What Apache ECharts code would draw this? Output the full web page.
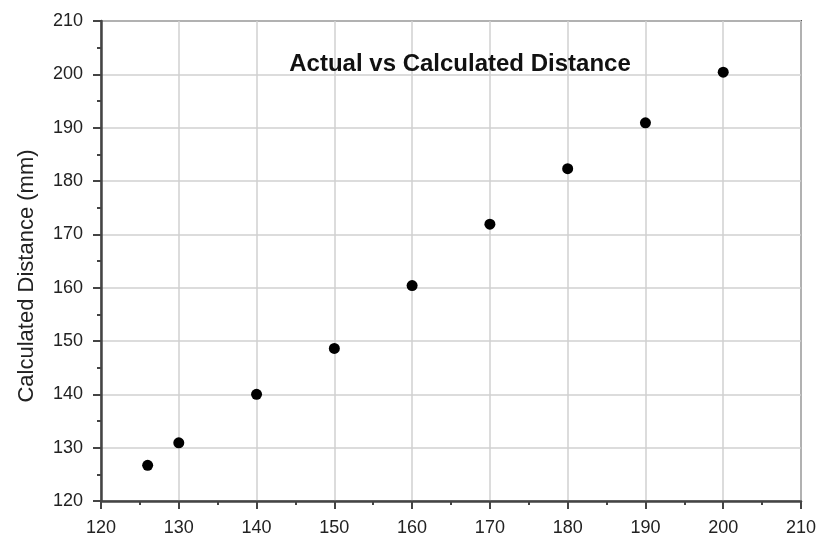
<!DOCTYPE html>
<html>
<head>
<meta charset="utf-8">
<script src="https://cdn.jsdelivr.net/npm/echarts@6/dist/echarts.min.js"></script>
<style>
  html, body { margin: 0; padding: 0; background: #fff; }
  #main { width: 822px; height: 537px; }
</style>
</head>
<body>
<div id="main"></div>
<script>
// actual distance (mm) vs calculated distance (mm)
const actual = [126, 130, 140, 150, 160, 170, 180, 190, 200];
const calculated = [126.7, 130.9, 140.0, 148.6, 160.4, 171.9, 182.3, 190.9, 200.4];
const axisMin = 120;
const axisMax = 210;
const axisStep = 10;

const points = actual.map((x, i) => [x, calculated[i]]);

const font = '"Liberation Sans", Arial, sans-serif';

const chart = echarts.init(document.getElementById('main'));
chart.setOption({
    animation: false,
    backgroundColor: '#fff',
    textStyle: { fontFamily: font },
    title: {
        text: 'Actual vs Calculated Distance',
        left: 455,
        top: 47,
        textAlign: 'center',
        textStyle: { fontFamily: font, fontSize: 24, fontWeight: 'bold', color: '#111' }
    },
    grid: {
        left: 101,
        right: 21,
        top: 21,
        bottom: 36,
        outerBoundsMode: 'none',
        containLabel: false,
        show: true,
        borderColor: '#555',
        borderWidth: 2
    },
    xAxis: {
        type: 'value',
        min: axisMin,
        max: axisMax,
        interval: axisStep,
        axisLine: { show: true, lineStyle: { color: '#444', width: 2.5 } },
        axisTick: { show: true, length: 8, lineStyle: { color: '#444', width: 2 } },
        minorTick: { show: true, splitNumber: 2, length: 4, lineStyle: { color: '#444', width: 2 } },
        axisLabel: { fontSize: 18, color: '#222', margin: 18, fontFamily: font },
        splitLine: { show: true, lineStyle: { color: '#d0d0d0', width: 1.5 } }
    },
    yAxis: {
        type: 'value',
        name: 'Calculated Distance (mm)',
        nameLocation: 'middle',
        nameGap: 63,
        nameTextStyle: { fontSize: 22, color: '#222', fontFamily: font, padding: [0, 30, 0, 0] },
        min: axisMin,
        max: axisMax,
        interval: axisStep,
        axisLine: { show: true, lineStyle: { color: '#444', width: 2.5 } },
        axisTick: { show: true, length: 8, lineStyle: { color: '#444', width: 2 } },
        minorTick: { show: true, splitNumber: 2, length: 4, lineStyle: { color: '#444', width: 2 } },
        axisLabel: { fontSize: 18, color: '#222', margin: 18, fontFamily: font },
        splitLine: { show: true, lineStyle: { color: '#d0d0d0', width: 1.5 } }
    },
    series: [{
        type: 'scatter',
        data: points,
        symbol: 'circle',
        symbolSize: 11,
        itemStyle: { color: '#000', opacity: 1 }
    }]
});
</script>
</body>
</html>
